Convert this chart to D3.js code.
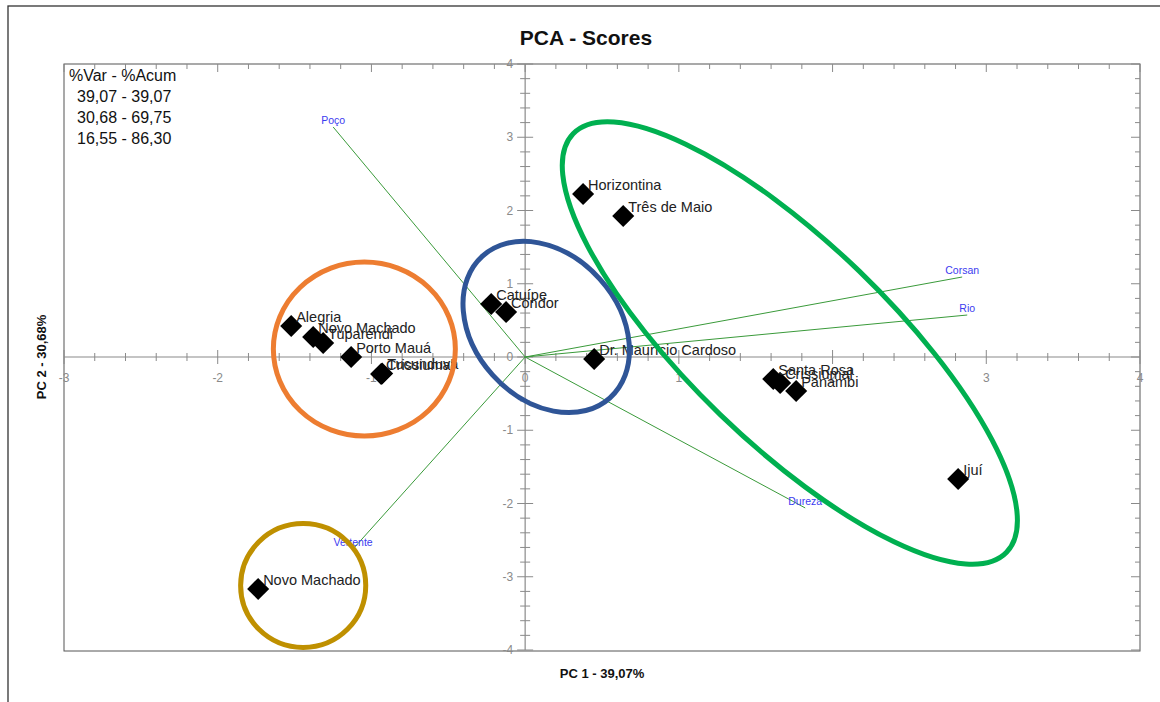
<!DOCTYPE html>
<html>
<head>
<meta charset="utf-8">
<script src="https://cdn.jsdelivr.net/npm/d3@7"></script>
<style>
  html, body { margin: 0; padding: 0; background: #fff; }
  svg { display: block; font-family: Arial, "Liberation Sans", sans-serif; }
</style>
</head>
<body>
<svg id="chart" width="1160" height="702"></svg>
<script>
// Sample scores on PC1 / PC2
const sampleNames = ["Horizontina", "Três de Maio", "Catuípe", "Condor", "Dr. Maurício Cardoso",
  "Alegria", "Novo Machado", "Tuparendi", "Porto Mauá", "Crissiumal", "Tucunduva",
  "Santa Rosa", "Crissiumal", "Panambi", "Ijuí", "Novo Machado"];
const pc1Scores = [0.377, 0.638, -0.221, -0.124, 0.449,
  -1.522, -1.379, -1.314, -1.132, -0.937, -0.930,
  1.614, 1.659, 1.763, 2.817, -1.737];
const pc2Scores = [2.225, 1.925, 0.724, 0.614, -0.027,
  0.423, 0.273, 0.191, 0.000, -0.232, -0.225,
  -0.300, -0.355, -0.464, -1.666, -3.167];

// Variable loadings (scaled)
const varNames = ["Poço", "Corsan", "Rio", "Dureza", "Vertente"];
const varPC1 = [-1.249, 2.843, 2.876, 1.822, -1.119];
const varPC2 = [3.140, 1.092, 0.573, -2.061, -2.620];

// Explained variance table
const varHeader = "%Var - %Acum";
const varExplained = ["39,07", "30,68", "16,55"];
const varAccum = ["39,07", "69,75", "86,30"];

// Group outlines: centre (PC1, PC2), semi-axes in PC1 units, tilt in degrees
const groupColors = ["#ED7D31", "#2F5597", "#00B050", "#BF9000"];
const groupCX = [-1.046, 0.137, 1.722, -1.444];
const groupCY = [0.109, 0.410, 0.191, -3.120];
const groupA = [0.592, 0.620, 1.960, 0.407];
const groupB = [0.566, 0.468, 0.650, 0.403];
const groupTilt = [0, 48, 44, 0];

// Axis tick labels
const xTickValues = [-3, -2, -1, 0, 1, 2, 3, 4];
const yTickValues = [-4, -3, -2, -1, 0, 1, 2, 3, 4];

const svg = d3.select("#chart");
const plotL = 64, plotR = 1140, plotT = 64, plotB = 650;

const x = d3.scaleLinear().domain([-3, 4]).range([plotL, plotR]);
const y = d3.scaleLinear().domain([-4, 4]).range([plotB, plotT]);
const pxPerUnit = x(1) - x(0);

// Outer frame
svg.append("rect").attr("x", 8).attr("y", 6).attr("width", 1300).attr("height", 900)
  .attr("fill", "none").attr("stroke", "#333").attr("stroke-width", 1.3);

// Title
svg.append("text").attr("x", 586).attr("y", 45).attr("text-anchor", "middle")
  .attr("font-size", 21).attr("font-weight", "bold").attr("fill", "#111").text("PCA - Scores");

// Plot border
svg.append("rect").attr("x", plotL).attr("y", plotT).attr("width", plotR - plotL).attr("height", plotB - plotT + 1)
  .attr("fill", "none").attr("stroke", "#555").attr("stroke-width", 1);

const axisColor = "#8a8a8a";
const minorX = d3.range(-15, 21).map(i => i / 5);
const minorY = d3.range(-20, 21).map(i => i / 5);
const isMajor = v => Math.abs(v - Math.round(v)) < 1e-6;

const g = svg.append("g");

// Zero lines
g.append("line").attr("x1", plotL).attr("x2", plotR).attr("y1", y(0)).attr("y2", y(0))
  .attr("stroke", axisColor).attr("stroke-width", 1.2);
g.append("line").attr("x1", x(0)).attr("x2", x(0)).attr("y1", plotT).attr("y2", plotB)
  .attr("stroke", axisColor).attr("stroke-width", 1.2);

// Ticks on the zero lines
g.selectAll(".xt").data(minorX).join("line")
  .attr("x1", d => x(d)).attr("x2", d => x(d))
  .attr("y1", d => y(0) - (isMajor(d) ? 7 : 4)).attr("y2", d => y(0) + (isMajor(d) ? 7 : 4))
  .attr("stroke", axisColor).attr("stroke-width", 1);
g.selectAll(".yt").data(minorY).join("line")
  .attr("y1", d => y(d)).attr("y2", d => y(d))
  .attr("x1", d => x(0) - (isMajor(d) ? 8 : 5)).attr("x2", d => x(0) + (isMajor(d) ? 8 : 5))
  .attr("stroke", axisColor).attr("stroke-width", 1);

// Ticks on the top and right borders
g.selectAll(".tt").data(minorX).join("line")
  .attr("x1", d => x(d)).attr("x2", d => x(d))
  .attr("y1", plotT).attr("y2", d => plotT + (isMajor(d) ? 8 : 5))
  .attr("stroke", axisColor).attr("stroke-width", 1);
g.selectAll(".rt").data(minorY).join("line")
  .attr("y1", d => y(d)).attr("y2", d => y(d))
  .attr("x1", plotR).attr("x2", d => plotR - (isMajor(d) ? 9 : 5))
  .attr("stroke", axisColor).attr("stroke-width", 1);

// Tick labels
g.selectAll(".xl").data(xTickValues).join("text")
  .attr("x", d => x(d)).attr("y", y(0) + 25).attr("text-anchor", "middle")
  .attr("font-size", 12).attr("fill", "#8a8a8a").text(d => d);
g.selectAll(".yl").data(yTickValues).join("text")
  .attr("x", x(0) - 12).attr("y", d => y(d) + 4).attr("text-anchor", "end")
  .attr("font-size", 12).attr("fill", "#8a8a8a").text(d => d);

// Axis titles
svg.append("text").attr("x", (plotL + plotR) / 2).attr("y", 678).attr("text-anchor", "middle")
  .attr("font-size", 13).attr("font-weight", "bold").attr("fill", "#111")
  .attr("font-family", "'Liberation Sans Narrow', Arial, sans-serif")
  .text("PC 1 - 39,07%");
svg.append("text").attr("transform", `translate(46,${y(0)}) rotate(-90)`).attr("text-anchor", "middle")
  .attr("font-size", 13).attr("font-weight", "bold").attr("fill", "#111")
  .attr("font-family", "'Liberation Sans Narrow', Arial, sans-serif")
  .text("PC 2 - 30,68%");

// Variance table
const tbl = svg.append("g").attr("font-size", 16).attr("fill", "#111");
tbl.append("text").attr("x", 69).attr("y", 81).text(varHeader);
tbl.selectAll(".row").data(varExplained).join("text")
  .attr("x", 77).attr("y", (d, i) => 102 + i * 21)
  .text((d, i) => `${d} - ${varAccum[i]}`);

// Loading vectors
const vec = svg.append("g");
vec.selectAll("line").data(varNames).join("line")
  .attr("x1", x(0)).attr("y1", y(0))
  .attr("x2", (d, i) => x(varPC1[i])).attr("y2", (d, i) => y(varPC2[i]))
  .attr("stroke", "#3a9a3a").attr("stroke-width", 1);
vec.selectAll("text").data(varNames).join("text")
  .attr("x", (d, i) => x(varPC1[i])).attr("y", (d, i) => y(varPC2[i]) - 3)
  .attr("text-anchor", "middle").attr("font-size", 10.5).attr("fill", "#3b3bf0")
  .text(d => d);

// Sample points (diamonds) and labels
const pts = svg.append("g");
pts.selectAll("path").data(sampleNames).join("path")
  .attr("transform", (d, i) => `translate(${x(pc1Scores[i])},${y(pc2Scores[i])}) rotate(45)`)
  .attr("d", "M-7.8,-7.8H7.8V7.8H-7.8Z").attr("fill", "#000");
pts.selectAll("text").data(sampleNames).join("text")
  .attr("x", (d, i) => x(pc1Scores[i]) + 5).attr("y", (d, i) => y(pc2Scores[i]) - 4)
  .attr("font-size", 14.5).attr("fill", "#222").text(d => d);

// Group outlines
svg.append("g").selectAll("ellipse").data(groupColors).join("ellipse")
  .attr("transform", (d, i) => `translate(${x(groupCX[i])},${y(groupCY[i])}) rotate(${groupTilt[i]})`)
  .attr("rx", (d, i) => groupA[i] * pxPerUnit).attr("ry", (d, i) => groupB[i] * pxPerUnit)
  .attr("fill", "none").attr("stroke", d => d).attr("stroke-width", 5);
</script>
</body>
</html>
